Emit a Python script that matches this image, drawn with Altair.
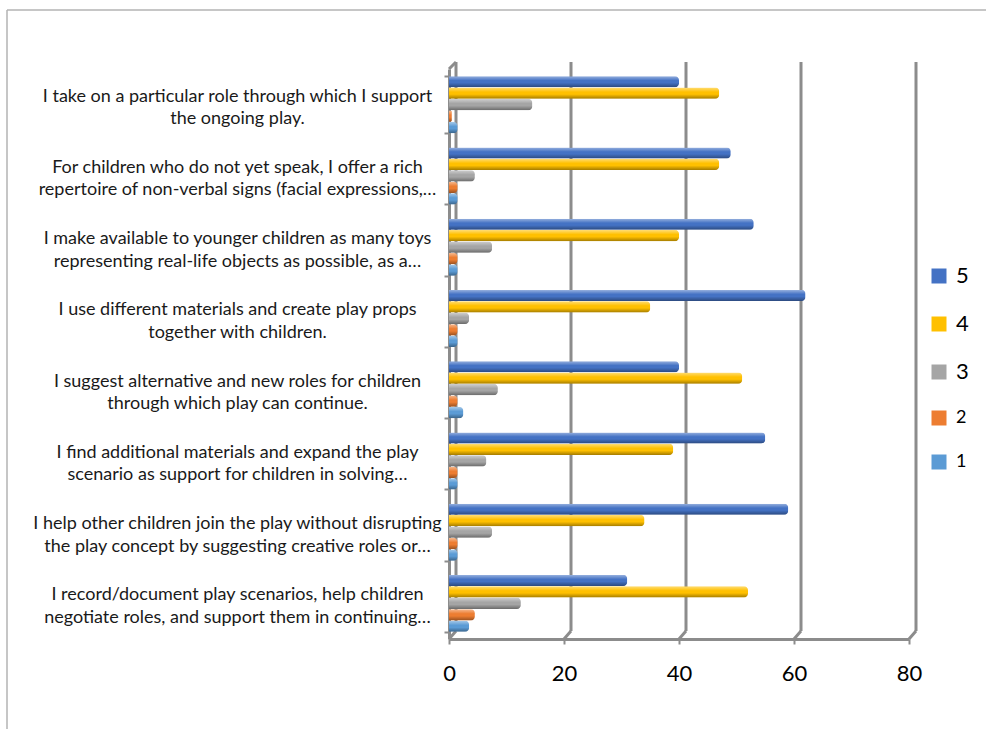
import altair as alt
import pandas as pd

# Survey items (line breaks marked with "|")
categories = [
    "I take on a particular role through which I support|the ongoing play.",
    "For children who do not yet speak, I offer a rich|repertoire of non-verbal signs (facial expressions,…",
    "I make available to younger children as many toys|representing real-life objects as possible, as a…",
    "I use different materials and create play props|together with children.",
    "I suggest alternative and new roles for children|through which play can continue.",
    "I find additional materials and expand the play|scenario as support for children in solving…",
    "I help other children join the play without disrupting|the play concept by suggesting creative roles or…",
    "I record/document play scenarios, help children|negotiate roles, and support them in continuing…",
]

levels = ["5", "4", "3", "2", "1"]

# Share of answers per rating level, one value per item
s5 = [40, 49, 53, 62, 40, 55, 59, 31]
s4 = [47, 47, 40, 35, 51, 39, 34, 52]
s3 = [14.5, 4.5, 7.5, 3.5, 8.5, 6.5, 7.5, 12.5]
s2 = [0.5, 1.5, 1.5, 1.5, 1.5, 1.5, 1.5, 4.5]
s1 = [1.5, 1.5, 1.5, 1.5, 2.5, 1.5, 1.5, 3.5]

ticks = [0, 20, 40, 60, 80]

palette = ["#4472C4", "#FFC000", "#A5A5A5", "#ED7D31", "#5B9BD5"]
GRAY = "#8c8c8c"
FONT = "Lato"

rows = []
for lvl, vals in zip(levels, [s5, s4, s3, s2, s1]):
    for item, v in zip(categories, vals):
        rows.append({"item": item, "level": lvl, "pct": v})
df = pd.DataFrame(rows)
grid_df = pd.DataFrame({"t": ticks})
corner_df = pd.DataFrame({"t": [0]})
one = pd.DataFrame({"k": [0]})

x_scale = alt.Scale(domain=[0, 80], nice=False, zero=True)

x_axis = alt.Axis(
    values=ticks,
    title=None,
    grid=False,
    domainColor=GRAY,
    domainWidth=3,
    tickColor=GRAY,
    tickWidth=2,
    tickSize=5,
    labelFontSize=22,
    labelFont=FONT,
    labelColor="#000000",
    labelPadding=19,
    labelFlush=False,
)

y_enc = alt.Y(
    "item:N",
    sort=categories,
    scale=alt.Scale(paddingInner=0.2, paddingOuter=0.1),
    axis=alt.Axis(
        title=None,
        labelExpr="split(datum.label, '|')",
        labelAlign="center",
        labelBaseline="middle",
        labelPadding=207,
        labelOffset=-8.5,
        labelLineHeight=22.5,
        labelFontSize=18,
        labelFont=FONT,
        labelColor="#1a1a1a",
        labelLimit=0,
        tickBand="extent",
        tickSize=5,
        tickColor=GRAY,
        tickWidth=2,
        domainColor=GRAY,
        domainWidth=3,
        grid=False,
    ),
)

x_enc = alt.X("pct:Q", scale=x_scale, axis=x_axis)

y_off = alt.YOffset("level:N", sort=levels, scale=alt.Scale(paddingInner=0.04))

# Outer frame of the chart box (top and left edges)
frame_top = alt.Chart(one).mark_rule(color="#b3b3b3", strokeWidth=1.5).encode(
    x=alt.value(-442), x2=alt.value(540), y=alt.value(-59)
)
frame_left = alt.Chart(one).mark_rule(color="#b3b3b3", strokeWidth=1.5).encode(
    x=alt.value(-442), y=alt.value(-59), y2=alt.value(665)
)

# Back-wall gridlines (shifted to give the 3-D depth)
grid = alt.Chart(grid_df).mark_rule(color=GRAY, strokeWidth=3, xOffset=7).encode(
    x=alt.X("t:Q", scale=x_scale, axis=x_axis),
    y=alt.value(-7),
    y2=alt.value(562),
)
# Floor diagonals joining the front axis to the back wall
floor = alt.Chart(grid_df).mark_rule(color=GRAY, strokeWidth=3, x2Offset=7).encode(
    x=alt.X("t:Q", scale=x_scale, axis=x_axis),
    x2=alt.X2("t"),
    y=alt.value(570),
    y2=alt.value(562),
)
corner = alt.Chart(corner_df).mark_rule(color=GRAY, strokeWidth=3, x2Offset=7).encode(
    x=alt.X("t:Q", scale=x_scale, axis=x_axis),
    x2=alt.X2("t"),
    y=alt.value(0),
    y2=alt.value(-7),
)

bars = alt.Chart(df).mark_bar(cornerRadiusEnd=4).encode(
    y=y_enc,
    x=x_enc,
    yOffset=y_off,
    color=alt.Color(
        "level:N",
        sort=levels,
        scale=alt.Scale(domain=levels, range=palette),
        legend=alt.Legend(
            title=None,
            orient="none",
            legendX=481,
            legendY=198,
            symbolType="square",
            symbolSize=225,
            symbolStrokeWidth=0,
            labelFont=FONT,
            labelFontSize=alt.ExprRef("toNumber(datum.value) >= 3 ? 22 : 18"),
            labelColor="#000000",
            labelOffset=8,
            rowPadding=26,
        ),
    ),
)

# Cylinder-like shading laid over every bar
shade = alt.Chart(df).mark_bar(
    cornerRadiusEnd=4,
    color=alt.LinearGradient(
        gradient="linear",
        x1=0, x2=0, y1=0, y2=1,
        stops=[
            alt.GradientStop(color="rgba(255,255,255,0.45)", offset=0),
            alt.GradientStop(color="rgba(255,255,255,0.0)", offset=0.4),
            alt.GradientStop(color="rgba(0,0,0,0.0)", offset=0.6),
            alt.GradientStop(color="rgba(0,0,0,0.35)", offset=1),
        ],
    ),
).encode(y=y_enc, x=x_enc, yOffset=y_off)

chart = (
    alt.layer(frame_top, frame_left, grid, floor, corner, bars, shade)
    .properties(
        width=460,
        height=570,
        padding={"left": 449, "top": 69, "right": 77, "bottom": 90},
        autosize=alt.AutoSizeParams(type="none"),
        background="white",
    )
    .configure_view(stroke=None)
)

chart.save("out.html", embed_options={"renderer": "svg", "actions": False})
